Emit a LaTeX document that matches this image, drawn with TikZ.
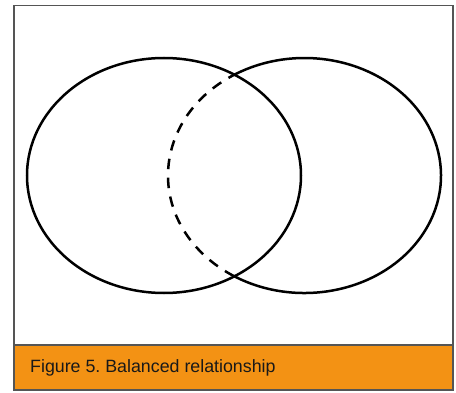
\documentclass[tikz,border=0pt]{standalone}
\usepackage{fontspec}
\setmainfont{Liberation Sans}
\usepackage{tikz}
\usetikzlibrary{calc}
\definecolor{captionorange}{RGB}{243,146,20}
\definecolor{framegray}{RGB}{85,85,85}
\def\ellarc[#1](#2)(#3:#4:#5:#6){\draw[#1] ($(#2)+({#5*cos(#3)},{#6*sin(#3)})$) arc[start angle=#3, end angle=#4, x radius=#5, y radius=#6];}
\frenchspacing

\begin{document}
\begin{tikzpicture}[x=1pt,y=1pt]
			%%%%% START %%%%%
			\useasboundingbox (0, 0) rectangle (456, 392);
			\fill[white] (0, 0) rectangle (456, 392);
			
			\draw[fill=captionorange, draw=framegray, line width=1.2pt] (14, 2) rectangle (453, 47);
			\draw[draw=framegray, line width=1.2pt] (14, 47) rectangle (453, 386.5);
			\node[anchor=west, inner sep=0pt, font=\fontsize{17.8}{20}\selectfont, text=black!90] (caption) at (30, 24) {Figure 5. Balanced relationship};
			
			\coordinate (leftc) at (164, 216.5);
			\coordinate (rightc) at (304.5, 216.5);
			
			\draw[line width=2.5pt] (leftc) ellipse [x radius=137, y radius=117.5];
			\ellarc[line width=2.5pt](rightc)(-121:121:136.5:117.5);
			\ellarc[line width=2.5pt, dash pattern=on 10.5pt off 8.5pt, dash phase=4pt](rightc)(121:239:136.5:117.5);
			%%%%% END %%%%%
\end{tikzpicture}
\end{document}
